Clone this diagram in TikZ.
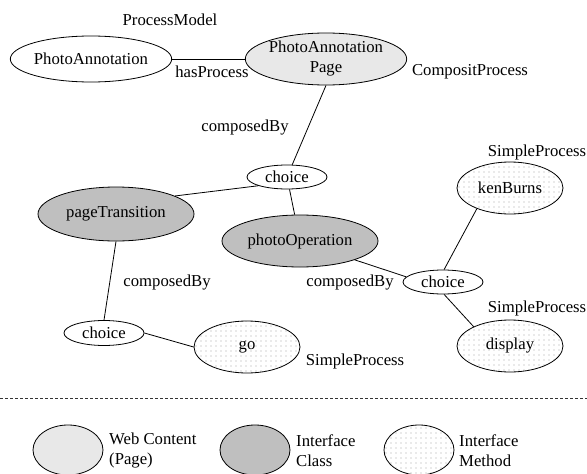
\documentclass[tikz,border=0pt]{standalone}
\usepackage{fontspec}
\setmainfont{Liberation Serif}
\usetikzlibrary{shapes.geometric}
\definecolor{pagefill}{gray}{0.91}
\definecolor{classfill}{gray}{0.75}
\definecolor{dotgray}{gray}{0.66}
\begin{document}
\begin{tikzpicture}[x=1pt,y=-1pt,
  every node/.style={font=\fontsize{16.7}{20}\selectfont},
  proc/.style={ellipse, draw, line width=0.8pt, inner sep=0pt, align=center},
  pagebox/.style={proc, fill=pagefill},
  classbox/.style={proc, fill=classfill},
  speckle/.style={proc, fill=white, path picture={
    \foreach \i in {0,...,24}{\foreach \j in {0,...,12}{
      \fill[dotgray] ([xshift=\i*5pt+2pt, yshift=\j*5pt+2pt]path picture bounding box.south west) circle (0.6pt);}}}},
  bigproc/.style={minimum width=158pt, minimum height=52pt},
  choicebox/.style={proc, minimum width=80pt, minimum height=24pt},
  methodbox/.style={speckle, minimum width=106pt, minimum height=52pt},
  legendbox/.style={minimum width=70pt, minimum height=50pt},
  lbl/.style={inner sep=0pt},
  legtxt/.style={inner sep=0pt, anchor=west, align=left},
  link/.style={line width=0.8pt},
  divider/.style={line width=0.6pt, dash pattern=on 3pt off 2pt, black!80}
]
\useasboundingbox (0,0) rectangle (587,474);

% process nodes
\node[proc, minimum width=158pt, minimum height=46pt] (pa) at (91,59) {PhotoAnnotation};
\node[pagebox, bigproc] (pap) at (326,59) {PhotoAnnotation\\Page};
\node[choicebox] (c1) at (287,177) {choice};
\node[classbox, minimum width=156pt, minimum height=54pt] (pt) at (116,214) {pageTransition};
\node[classbox, minimum width=156pt, minimum height=52pt] (po) at (300,241) {photoOperation};
\node[methodbox] (kb) at (510,188) {kenBurns};
\node[choicebox] (c2) at (443,282) {choice};
\node[methodbox] (disp) at (510,346) {display};
\node[choicebox, minimum height=25pt] (c3) at (104,333) {choice};
\node[methodbox] (go) at (247,347) {go};

% labels
\node[lbl] (lpm) at (170,20) {ProcessModel};
\node[lbl] (lhp) at (212,72) {hasProcess};
\node[lbl] (lcp) at (470,72) {CompositProcess};
\node[lbl] (lcb1) at (245,128) {composedBy};
\node[lbl] (lcb2) at (350,283) {composedBy};
\node[lbl] (lcb3) at (167,283) {composedBy};
\node[lbl] (lsp1) at (537,152) {SimpleProcess};
\node[lbl] (lsp2) at (537,308) {SimpleProcess};
\node[lbl] (lsp3) at (355,361) {SimpleProcess};

% connectors
\draw[link] (pa.east) -- (pap.west);
\draw[link] (pap.south) -- (c1);
\draw[link] (c1.197) -- (pt.17);
\draw[link] (c1) -- (po);
\draw[link] (po.-19) -- (c2.172);
\draw[link] (c2.85) -- (kb.212);
\draw[link] (c2.-85) -- (disp.152);
\draw[link] (pt.south) -- (c3.north);
\draw[link] (c3.east) -- (go.west);

% divider
\coordinate (dl) at (0,398);
\coordinate (dr) at (587,398);
\draw[divider] (dl) -- (dr);

% legend
\node[pagebox, legendbox] (k1) at (68,450) {};
\node[legtxt] (t1) at (109,451) {Web Content\\(Page)};
\node[classbox, legendbox] (k2) at (255,450) {};
\node[legtxt] (t2) at (296,451) {Interface\\Class};
\node[speckle, legendbox] (k3) at (419,450) {};
\node[legtxt] (t3) at (459,451) {Interface\\Method};
\end{tikzpicture}
\end{document}
